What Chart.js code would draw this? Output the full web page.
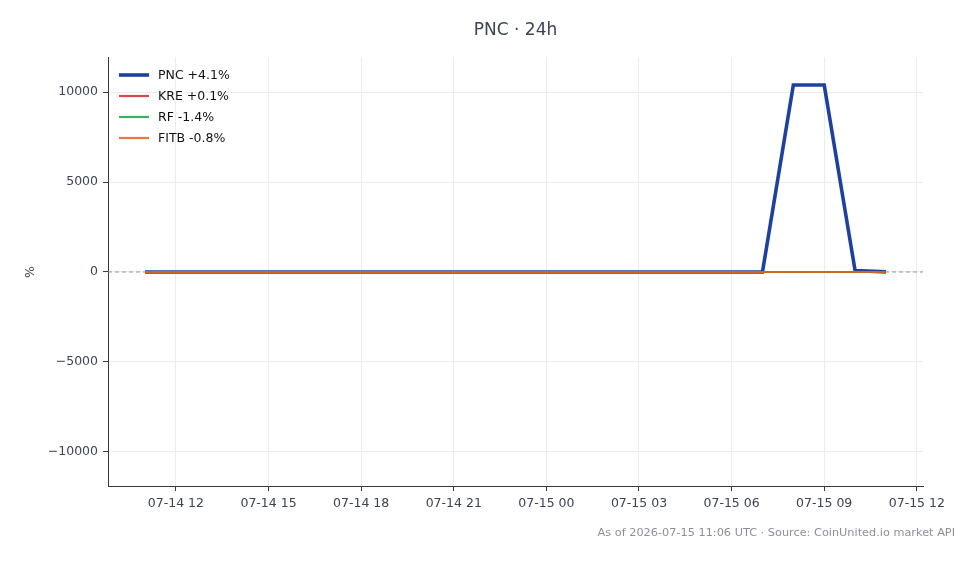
<!DOCTYPE html>
<html><head><meta charset="utf-8">
<script src="https://cdn.jsdelivr.net/npm/chart.js@4"></script>
<style>html,body{margin:0;padding:0;background:#fff}#wrap{width:978px;height:564px}</style>
</head><body><div id="wrap"><canvas id="c" width="978" height="564"></canvas></div>
<script>
// hours since 2026-07-14 00:00 UTC
const hours = [11,12,13,14,15,16,17,18,19,20,21,22,23,24,25,26,27,28,29,30,31,32,33,34,35];
const seriesNames = ["PNC +4.1%","KRE +0.1%","RF -1.4%","FITB -0.8%"];
const pncValues  = [0,0.4,0.9,1.3,0.8,1.1,1.6,2.0,1.7,2.3,2.8,2.5,3.0,3.4,3.1,2.9,3.5,3.8,3.3,3.6,3.9,10390,10390,80,4.1];
const kreValues  = [0,0.2,-0.1,0.3,0.5,0.2,0.4,0.1,-0.2,0.0,0.3,0.6,0.4,0.2,0.5,0.3,0.1,0.4,0.2,-0.1,0.0,0.3,0.2,0.0,0.1];
const rfValues   = [0,-0.2,-0.4,-0.3,-0.6,-0.5,-0.8,-0.7,-0.9,-1.1,-0.8,-1.0,-1.2,-1.0,-1.3,-1.1,-1.4,-1.2,-1.5,-1.3,-1.6,-1.4,-1.5,-1.3,-1.4];
const fitbValues = [0,-0.1,0.2,-0.2,-0.3,-0.1,-0.4,-0.5,-0.3,-0.6,-0.4,-0.7,-0.5,-0.8,-0.6,-0.9,-0.7,-1.0,-0.8,-0.9,-0.7,-1.0,-0.8,-0.9,-0.8];
const xTicks = [12,15,18,21,24,27,30,33,36];
const yTicks = [-10000,-5000,0,5000,10000];
const titleText = "PNC \u00b7 24h";
const footerText = "As of 2026-07-15 11:06 UTC \u00b7 Source: CoinUnited.io market API";

const FONT = "'DejaVu Sans', sans-serif";
const TXT = '#3b4452';
const colors = ['#1e40a0','rgba(214,39,40,0.85)','rgba(22,163,74,0.85)','rgba(230,95,25,0.85)'];
const widths = [3.6,2.2,2.2,2.2];
const vals = [pncValues,kreValues,rfValues,fitbValues];

function pts(v){ return hours.map((h,i)=>({x:h,y:v[i]})); }
function fmtHour(h){
  const d = 14 + Math.floor(h/24), hh = h % 24;
  return '07-' + String(d).padStart(2,'0') + ' ' + String(hh).padStart(2,'0');
}

const deco = {
  id:'deco',
  beforeDatasetsDraw(chart){
    const {ctx, chartArea:a, scales:{y}} = chart;
    const py = y.getPixelForValue(0);
    ctx.save();
    ctx.strokeStyle = '#8a96a8'; ctx.lineWidth = 1; ctx.setLineDash([4,3]);
    ctx.beginPath(); ctx.moveTo(a.left, py); ctx.lineTo(a.right, py); ctx.stroke();
    ctx.restore();
  },
  afterDraw(chart){
    const {ctx, chartArea:a} = chart;
    ctx.save();
    ctx.fillStyle = TXT; ctx.textAlign='center'; ctx.textBaseline='middle';
    ctx.font = "17px " + FONT;
    ctx.fillText(titleText, (a.left+a.right)/2, 31);
    ctx.save(); ctx.translate(31, chart.scales.y.getPixelForValue(0)); ctx.rotate(-Math.PI/2);
    ctx.font = "12.5px " + FONT; ctx.fillText('%', 0, 0); ctx.restore();
    ctx.font = "11.3px " + FONT; ctx.fillStyle = '#8a9099'; ctx.textAlign='right';
    ctx.fillText(footerText, 955, 533);
    // legend
    ctx.textAlign='left'; ctx.font = "12.5px " + FONT; ctx.fillStyle='#111111';
    chart.data.datasets.forEach((ds,i)=>{
      const yy = 75 + i*21;
      ctx.strokeStyle = ds.borderColor; ctx.lineWidth = ds.borderWidth; ctx.setLineDash([]);
      ctx.beginPath(); ctx.moveTo(119, yy); ctx.lineTo(149, yy); ctx.stroke();
      ctx.fillText(ds.label, 158, yy+1);
    });
    ctx.restore();
  }
};

new Chart(document.getElementById('c'), {
  type:'line',
  data:{ datasets: vals.map((v,i)=>({
    label: seriesNames[i], data: pts(v), borderColor: colors[i], backgroundColor: colors[i],
    borderWidth: widths[i], pointRadius:0, tension:0, fill:false, order: 4-i
  })) },
  options:{
    responsive:false, animation:false, devicePixelRatio:1,
    layout:{ padding:{ top:57, right:55, bottom:0, left:0 } },
    plugins:{ legend:{display:false}, title:{display:false}, tooltip:{enabled:false} },
    scales:{
      x:{ type:'linear', min:9.8, max:36.2,
        afterBuildTicks(s){ s.ticks = xTicks.map(v=>({value:v})); },
        afterFit(s){ s.height = 78; },
        grid:{ color:'#ececec', tickColor:'#333a44', tickLength:5, drawOnChartArea:true },
        border:{ color:'#333a44', width:1 },
        ticks:{ color:TXT, font:{family:FONT, size:12.5}, padding:5, maxRotation:0, autoSkip:false,
          callback:(v)=>fmtHour(v) }
      },
      y:{ min:-11890, max:11945,
        afterBuildTicks(s){ s.ticks = yTicks.map(v=>({value:v})); },
        afterFit(s){ s.width = 108; },
        grid:{ color:'#ececec', tickColor:'#333a44', tickLength:5 },
        border:{ color:'#333a44', width:1 },
        ticks:{ color:TXT, font:{family:FONT, size:12.5}, padding:5,
          callback:(v)=> v<0 ? '\u2212'+Math.abs(v) : String(v) }
      }
    }
  },
  plugins:[deco]
});
</script></body></html>
